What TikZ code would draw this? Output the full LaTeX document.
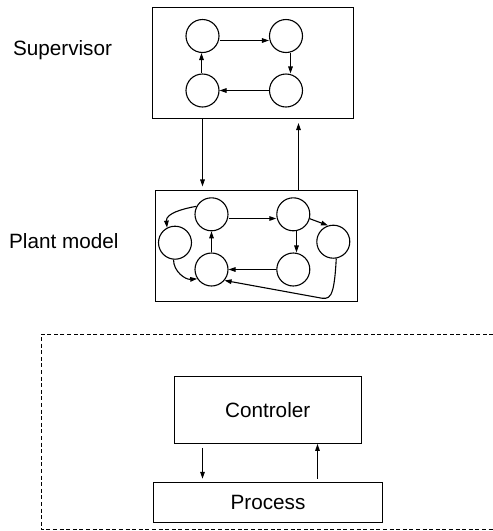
\documentclass[tikz,border=0pt]{standalone}
\usepackage{fontspec}
\setmainfont{Liberation Sans}
\usetikzlibrary{arrows.meta}
\begin{document}
\begin{tikzpicture}[x=1pt,y=-1pt,
  line width=1.1pt,
  >={Triangle[length=7pt,width=4.6pt]},
  lbl/.style={font=\fontsize{20.7}{24}\selectfont, inner sep=0pt},
  box/.style={draw, rectangle, inner sep=0pt},
  state/.style={draw, circle, minimum size=33pt, inner sep=0pt},
  dashbox/.style={line width=0.9pt, dash pattern=on 4pt off 2.6pt}]
\useasboundingbox (0,0) rectangle (493,531);

% side labels
\node[lbl, anchor=base] (suplbl) at (62.5,55) {Supervisor};
\node[lbl, anchor=base] (plantlbl) at (63.8,248.3) {Plant model};

% supervisor automaton
\node[box, minimum width=201pt, minimum height=111pt] (sup) at (253,63) {};
\node[state] (s1) at (202.5,36) {};
\node[state] (s2) at (286,36) {};
\node[state] (s3) at (286,90.5) {};
\node[state] (s4) at (202.5,90.5) {};
\draw[->] ([yshift=-4.5pt]s1.east) -- ([yshift=-4.5pt]s2.west);
\draw[->] ([xshift=4.5pt]s2.south) -- ([xshift=4.5pt]s3.north);
\draw[->] (s3) -- (s4);
\draw[->] ([xshift=-1pt]s4.north) -- ([xshift=-1pt]s1.south);

% plant model automaton
\node[box, minimum width=202pt, minimum height=111pt] (plant) at (256.5,246) {};
\node[state] (pa) at (211.5,214.3) {};
\node[state] (pb) at (175,242.7) {};
\node[state] (pc) at (211.5,269.5) {};
\node[state] (pd) at (293.3,214.3) {};
\node[state] (pe) at (333.3,241.7) {};
\node[state] (pf) at (293.3,269.5) {};
\draw[->] ([yshift=-4.2pt]pa.east) -- ([yshift=-4.2pt]pd.west);
\draw[->] ([xshift=3.2pt]pd.south) -- ([xshift=3.2pt]pf.north);
\draw[->] (pf) -- (pc);
\draw[->] (pc) -- (pa);
\draw[->] (pa.152) to[out=190,in=95] (pb.118);
\draw[->] (pd.-15) -- (pe.108);
\draw[->] (pb.-95) to[out=-90,in=185] (pc.213);
\draw[->] (pe.-80) .. controls (334,300) and (330,300) .. (318,297.5) -- (pc.-40);

% links between supervisor and plant model
\draw[->, shorten >=3.5pt] (sup.south -| s1) -- (plant.north -| s1);
\draw[->, shorten >=4pt] (plant.north -| 298.5,0) -- (sup.south -| 298.5,0);

% controlled system
\draw[dashbox] (500,334) -- (41,334) -- (41,529.6) -- (500,529.6);
\node[box, lbl, minimum width=186.7pt, minimum height=67.3pt] (ctrl) at (267.7,409.7) {Controler};
\node[box, lbl, minimum width=229.4pt, minimum height=40pt] (proc) at (268,502.7) {Process};
\draw[->, shorten <=4pt, shorten >=3.4pt] (ctrl.south -| 202.5,0) -- (proc.north -| 202.5,0);
\draw[->, shorten <=3.4pt] (proc.north -| 317.5,0) -- (ctrl.south -| 317.5,0);
\end{tikzpicture}
\end{document}
